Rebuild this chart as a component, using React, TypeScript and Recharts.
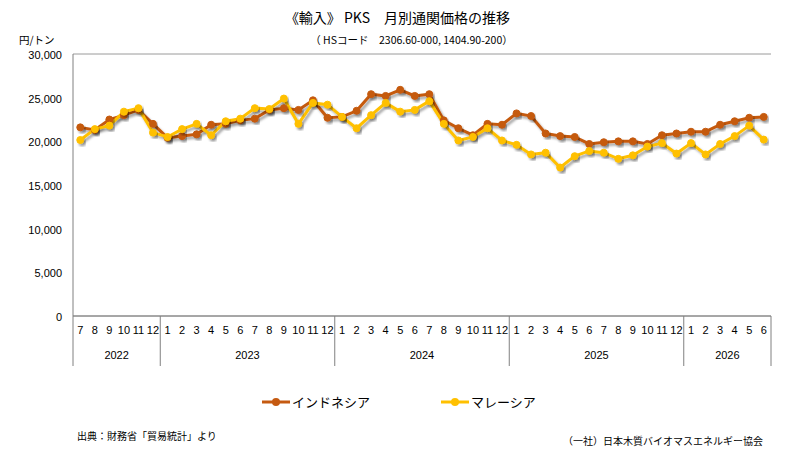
import React from 'react';
import { LineChart, Line, XAxis, YAxis, CartesianGrid } from 'recharts';

const monthLabels = [
  '7','8','9','10','11','12',
  '1','2','3','4','5','6','7','8','9','10','11','12',
  '1','2','3','4','5','6','7','8','9','10','11','12',
  '1','2','3','4','5','6','7','8','9','10','11','12',
  '1','2','3','4','5','6',
];
const yearGroups = [
  { year: '2022', count: 6 },
  { year: '2023', count: 12 },
  { year: '2024', count: 12 },
  { year: '2025', count: 12 },
  { year: '2026', count: 6 },
];
const indonesia = [
  21600, 21300, 22500, 23000, 23600, 22000,
  20400, 20600, 20800, 21900, 22000, 22400, 22600, 23600, 23800, 23600, 24700, 22700,
  22800, 23500, 25400, 25200, 25900, 25200, 25400, 22400, 21500, 20700, 22000, 21900,
  23200, 22900, 20900, 20600, 20500, 19700, 19900, 20000, 20000, 19700, 20700, 20900,
  21100, 21100, 21900, 22300, 22700, 22800,
];
const malaysia = [
  20150, 21400, 21800, 23400, 23800, 21000,
  20500, 21400, 22000, 20700, 22300, 22600, 23800, 23700, 24900, 22000, 24400, 24200,
  22800, 21500, 23000, 24400, 23400, 23600, 24600, 22000, 20100, 20500, 21500, 20100,
  19600, 18500, 18700, 17000, 18300, 18900, 18700, 18000, 18400, 19400, 19800, 18600,
  19800, 18500, 19700, 20600, 21800, 20200,
];
const yTicks = [0, 5000, 10000, 15000, 20000, 25000, 30000];
const seriesNames = ['インドネシア', 'マレーシア'];
const seriesColors = ['#C55A11', '#FFC000'];

const W = 795;
const H = 459;
const M = { top: 54, right: 24, bottom: 93, left: 13 };
const YW = 60;
const PLOT_W = W - M.left - YW - M.right;
const BAND = PLOT_W / monthLabels.length;

const data = monthLabels.map((m, i) => ({
  key: i,
  m,
  ind: indonesia[i],
  mal: malaysia[i],
}));

const groupStarts: Record<number, { year: string; count: number }> = {};
{
  let acc = 0;
  yearGroups.forEach((g) => {
    groupStarts[acc] = g;
    acc += g.count;
  });
}

const FONT = '"Noto Sans CJK JP", "Noto Sans", sans-serif';
const NUMFONT = '"Liberation Sans", Arial, sans-serif';

const MonthTick = (props: any) => {
  const { x, y, index } = props;
  const half = BAND / 2;
  const g = groupStarts[index];
  const last = index === monthLabels.length - 1;
  return (
    <g>
      <text x={x} y={y + 18} textAnchor="middle" fontSize={11} fontFamily={NUMFONT} fill="#000">
        {monthLabels[index]}
      </text>
      {g && (
        <line x1={x - half} x2={x - half} y1={y} y2={y + 50} stroke="#808080" strokeWidth={1} />
      )}
      {g && (
        <text
          x={x - half + (g.count * BAND) / 2}
          y={y + 43}
          textAnchor="middle"
          fontSize={11}
          fontFamily={NUMFONT}
          fill="#000"
        >
          {g.year}
        </text>
      )}
      {last && (
        <line x1={x + half} x2={x + half} y1={y} y2={y + 50} stroke="#808080" strokeWidth={1} />
      )}
    </g>
  );
};

const LegendIcon = ({ color }: { color: string }) => (
  <svg width={30} height={12} style={{ verticalAlign: 'middle' }}>
    <line x1={1} x2={29} y1={6} y2={6} stroke={color} strokeWidth={3} />
    <circle cx={15} cy={6} r={4} fill={color} />
  </svg>
);

export default function App() {
  return (
    <div style={{ position: 'absolute', left: 0, top: 0, width: W, height: H, background: '#fff', fontFamily: FONT }}>
      <div style={{ position: 'absolute', left: 0, width: W, top: 7, textAlign: 'center', fontSize: 14, color: '#000', lineHeight: '20px' }}>
        《輸入》 PKS　月別通関価格の推移
      </div>
      <div style={{ position: 'absolute', left: 14, width: W, top: 32, textAlign: 'center', fontSize: 10.5, color: '#000', lineHeight: '16px' }}>
        （ HSコード　2306.60-000, 1404.90-200）
      </div>
      <div style={{ position: 'absolute', left: 19, top: 34, fontSize: 10.5, color: '#000', lineHeight: '12px' }}>円/トン</div>
      <LineChart width={W} height={H} data={data} margin={M}>
        <defs>
          <filter id="shadow" x="-10%" y="-10%" width="130%" height="150%">
            <feDropShadow dx="2" dy="2.5" stdDeviation="1.2" floodColor="#000" floodOpacity="0.35" />
          </filter>
        </defs>
        <CartesianGrid vertical={false} stroke="#9a9a9a" strokeWidth={1} />
        <XAxis
          dataKey="key"
          scale="band"
          interval={0}
          height={50}
          tickLine={false}
          tickSize={0}
          tickMargin={0}
          axisLine={{ stroke: '#808080' }}
          tick={<MonthTick />}
        />
        <YAxis
          yAxisId="left"
          width={YW}
          domain={[0, 30000]}
          ticks={yTicks}
          interval={0}
          tickLine={false}
          tickSize={0}
          tickMargin={11}
          axisLine={{ stroke: '#808080' }}
          tick={{ fontSize: 11, fill: '#000', fontFamily: NUMFONT, dy: 1 }}
          tickFormatter={(v: number) => v.toLocaleString('en-US')}
        />
        <YAxis
          yAxisId="right"
          orientation="right"
          width={0}
          domain={[0, 30000]}
          tick={false}
          tickLine={false}
          axisLine={{ stroke: '#808080' }}
        />
        <Line
          yAxisId="left"
          dataKey="ind"
          name={seriesNames[0]}
          stroke={seriesColors[0]}
          strokeWidth={3}
          filter="url(#shadow)"
          dot={{ r: 3.5, fill: seriesColors[0], stroke: seriesColors[0], strokeWidth: 1 }}
          isAnimationActive={false}
        />
        <Line
          yAxisId="left"
          dataKey="mal"
          name={seriesNames[1]}
          stroke={seriesColors[1]}
          strokeWidth={3}
          filter="url(#shadow)"
          dot={{ r: 3.5, fill: seriesColors[1], stroke: seriesColors[1], strokeWidth: 1 }}
          isAnimationActive={false}
        />
      </LineChart>
      <div style={{ position: 'absolute', left: 261, top: 392, fontSize: 13, color: '#000', display: 'flex', alignItems: 'center', lineHeight: '20px' }}>
        <LegendIcon color={seriesColors[0]} />
        <span style={{ marginLeft: 1 }}>{seriesNames[0]}</span>
      </div>
      <div style={{ position: 'absolute', left: 440, top: 392, fontSize: 13, color: '#000', display: 'flex', alignItems: 'center', lineHeight: '20px' }}>
        <LegendIcon color={seriesColors[1]} />
        <span style={{ marginLeft: 1 }}>{seriesNames[1]}</span>
      </div>
      <div style={{ position: 'absolute', left: 77, top: 429, fontSize: 10, color: '#000', lineHeight: '14px' }}>
        出典：財務省「貿易統計」より
      </div>
      <div style={{ position: 'absolute', left: 563, top: 434, fontSize: 10, color: '#000', lineHeight: '14px' }}>
        （一社）日本木質バイオマスエネルギー協会
      </div>
    </div>
  );
}
